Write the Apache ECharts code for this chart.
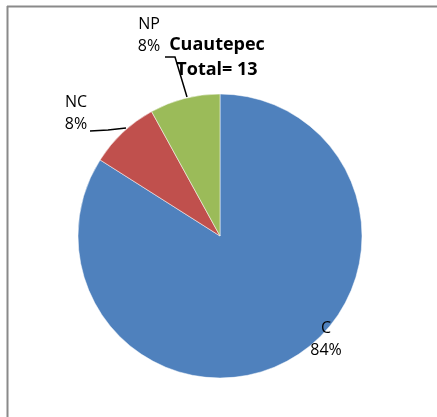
<!DOCTYPE html>
<html>
<head>
<meta charset="utf-8">
<script src="https://cdn.jsdelivr.net/npm/echarts@6/dist/echarts.min.js"></script>
<style>
  html, body { margin: 0; padding: 0; background: #fff; }
  #chart { width: 437px; height: 417px; }
</style>
</head>
<body>
<div id="chart"></div>
<script>
var categories = ['C', 'NC', 'NP'];
var values = [84, 8, 8];
var colors = ['#4F81BD', '#C0504D', '#9BBB59'];
var titleLines = ['Cuautepec', 'Total= 13'];

// label spots (centre of text) and leader lines, by slice
var labelSpots = [[326, 339], [76, 113], [149, 35]];
var leaderLines = [
  null,
  [[90, 131], [108, 130], [126, 128]],
  [[165, 57], [175, 57], [187, 97]]
];

var chart = echarts.init(document.getElementById('chart'));

var option = {
  backgroundColor: '#fff',
  animation: false,
  title: {
    text: titleLines.join('\n'),
    left: 212,
    textAlign: 'center',
    top: 27,
    textStyle: {
      fontFamily: 'Open Sans',
      fontWeight: 'bold',
      fontSize: 18,
      lineHeight: 25,
      color: '#000'
    }
  },
  graphic: [
    { type: 'line', shape: { x1: 7, y1: 6.5, x2: 437, y2: 6.5 }, style: { stroke: '#8a8a8a', lineWidth: 2 } },
    { type: 'line', shape: { x1: 7.5, y1: 6, x2: 7.5, y2: 417 }, style: { stroke: '#8a8a8a', lineWidth: 2 } }
  ],
  series: [{
    type: 'pie',
    center: [220, 236],
    radius: 142,
    startAngle: 90,
    clockwise: true,
    itemStyle: { borderColor: '#fff', borderWidth: 0.5 },
    label: {
      formatter: '{b}\n{d}%',
      fontFamily: 'Open Sans',
      fontSize: 16,
      lineHeight: 22,
      color: '#000',
      align: 'center'
    },
    labelLine: {
      show: true,
      lineStyle: { color: '#000', width: 1.5 }
    },
    labelLayout: function (p) {
      var s = labelSpots[p.dataIndex];
      var out = {
        x: s[0],
        y: s[1],
        align: 'center',
        verticalAlign: 'middle'
      };
      if (leaderLines[p.dataIndex]) {
        out.labelLinePoints = leaderLines[p.dataIndex];
      } else {
        out.labelLinePoints = [[s[0], s[1]], [s[0], s[1]], [s[0], s[1]]];
      }
      return out;
    },
    data: categories.map(function (c, i) {
      return { name: c, value: values[i], itemStyle: { color: colors[i] } };
    })
  }]
};

chart.setOption(option);
</script>
</body>
</html>
